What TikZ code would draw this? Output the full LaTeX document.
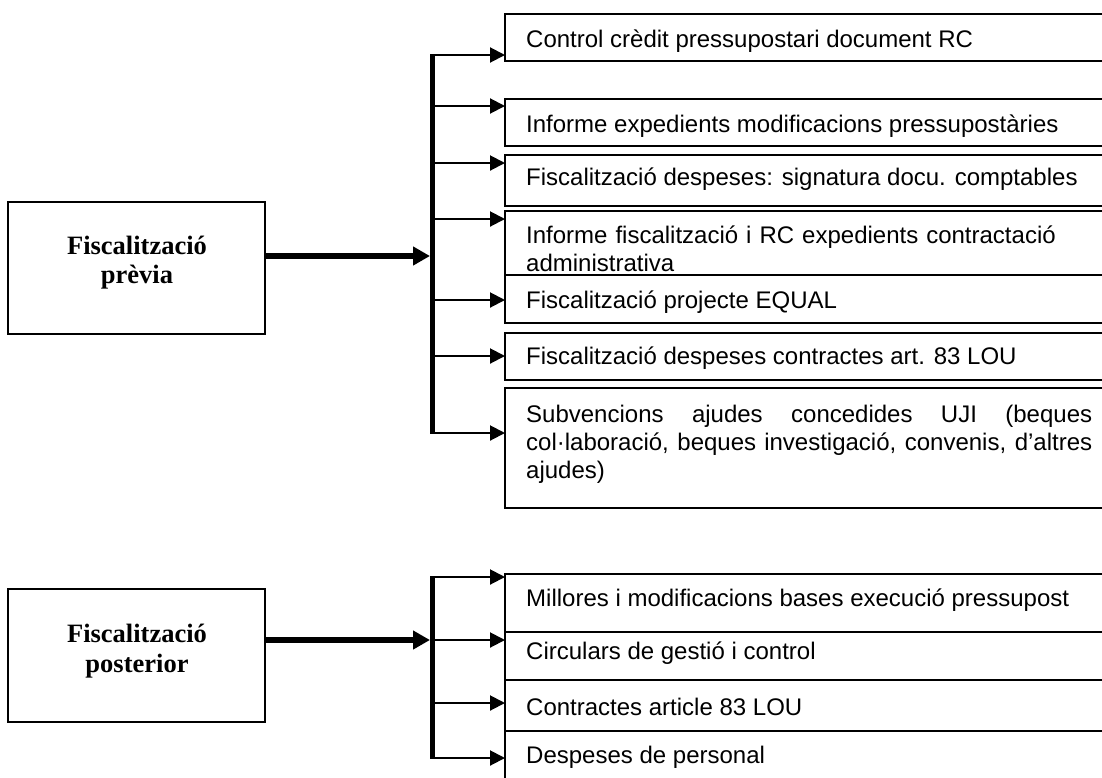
\documentclass[tikz,border=0pt]{standalone}
\usepackage{fontspec}
\setmainfont{Liberation Sans}
\newfontfamily\timesf{Liberation Serif}
\usetikzlibrary{arrows.meta,calc}
\begin{document}
\begin{tikzpicture}[x=1pt,y=-1pt,
  box/.style={draw, line width=2pt, rectangle, anchor=north west, inner sep=0pt, outer sep=0pt, minimum width=603pt},
  lbox/.style={draw, line width=2pt, rectangle, anchor=north west, inner sep=0pt, outer sep=0pt, minimum width=257pt},
  lbl/.style={anchor=base west, inner sep=0pt, font=\fontsize{24}{28}\selectfont},
  mlbl/.style={lbl, text width=566pt},
  ttl/.style={anchor=base, inner sep=0pt, font=\timesf\bfseries\fontsize{26.5}{30}\selectfont},
  bus/.style={line width=5pt},
  branch/.style={line width=2pt, -{Triangle[length=15pt,width=15pt]}},
  mainarrow/.style={line width=6pt, -{Triangle[length=17pt,width=18pt]}}]
\useasboundingbox (0,0) rectangle (1102,777);
\clip (0,0) rectangle (1102,777);

% left boxes
\node[lbox, minimum height=132pt] (L1) at (8,202) {};
\node[lbox, minimum height=133pt] (L2) at (8,589) {};
\node[ttl] (y1) at (137,254) {Fiscalització};
\node[ttl] (y2) at (137,283) {prèvia};
\node[ttl] (y3) at (137,642) {Fiscalització};
\node[ttl] (y4) at (137,672) {posterior};

% right boxes, top group
\node[box, minimum height=47pt] (b1) at (505,14) {};
\node[box, minimum height=47pt] (b2) at (505,99) {};
\node[box, minimum height=51pt] (b3) at (505,155) {};
\node[box, minimum height=64pt] (b4) at (505,211) {};
\node[box, minimum height=48pt] (b5) at (505,275) {};
\node[box, minimum height=47pt] (b6) at (505,333) {};
\node[box, minimum height=120pt] (b7) at (505,388) {};
% bottom group
\node[box, minimum height=58pt] (b8) at (505,574) {};
\node[box, minimum height=48pt] (b9) at (505,632) {};
\node[box, minimum height=51pt] (b10) at (505,680) {};
\node[box, minimum height=70pt] (b11) at (505,731) {};

% texts
\node[lbl] (x1) at (526,47) {Control crèdit pressupostari document RC};
\node[lbl] (x2) at (526,132) {Informe expedients modificacions pressupostàries};
\node[lbl] (x3) at (526,185) {Fiscalització despeses: signatura docu. comptables};
\node[mlbl, align=left] (x4) at (526,243) {Informe fiscalització i RC expedients contractació\\administrativa};
\node[lbl] (x5) at (526,308) {Fiscalització projecte EQUAL};
\node[lbl] (x6) at (526,364) {Fiscalització despeses contractes art. 83 LOU};
\node[mlbl, align=justify] (x7) at (526,422) {Subvencions ajudes concedides UJI (beques\linebreak col·laboració, beques investigació, convenis, d’altres\linebreak ajudes)};
\node[lbl] (x8) at (526,606) {Millores i modificacions bases execució pressupost};
\node[lbl] (x9) at (526,659) {Circulars de gestió i control};
\node[lbl] (x10) at (526,715) {Contractes article 83 LOU};
\node[lbl] (x11) at (526,763) {Despeses de personal};

% top bus
\coordinate (t1) at (432,55);
\coordinate (t2) at (432,106);
\coordinate (t3) at (432,163);
\coordinate (t4) at (432,219);
\coordinate (t5) at (432,300);
\coordinate (t6) at (432,356);
\coordinate (t7) at (432,433);
\coordinate (m1) at (430,256);
\draw[bus] ($(t1)+(0,-1)$) -- ($(t7)+(0,1)$);
\draw[branch] (t1) -- (t1 -| b1.west);
\draw[branch] (t2) -- (t2 -| b2.west);
\draw[branch] (t3) -- (t3 -| b3.west);
\draw[branch] (t4) -- (t4 -| b4.west);
\draw[branch] (t5) -- (t5 -| b5.west);
\draw[branch] (t6) -- (t6 -| b6.west);
\draw[branch] (t7) -- (t7 -| b7.west);
\draw[mainarrow] (L1.east |- m1) -- (m1);

% bottom bus
\coordinate (s1) at (432,577);
\coordinate (s2) at (432,640);
\coordinate (s3) at (432,703);
\coordinate (s4) at (432,758);
\coordinate (m2) at (430,640);
\draw[bus] ($(s1)+(0,-1)$) -- ($(s4)+(0,1)$);
\draw[branch] (s1) -- (s1 -| b8.west);
\draw[branch] (s2) -- (s2 -| b9.west);
\draw[branch] (s3) -- (s3 -| b10.west);
\draw[branch] (s4) -- (s4 -| b11.west);
\draw[mainarrow] (L2.east |- m2) -- (m2);
\end{tikzpicture}
\end{document}
